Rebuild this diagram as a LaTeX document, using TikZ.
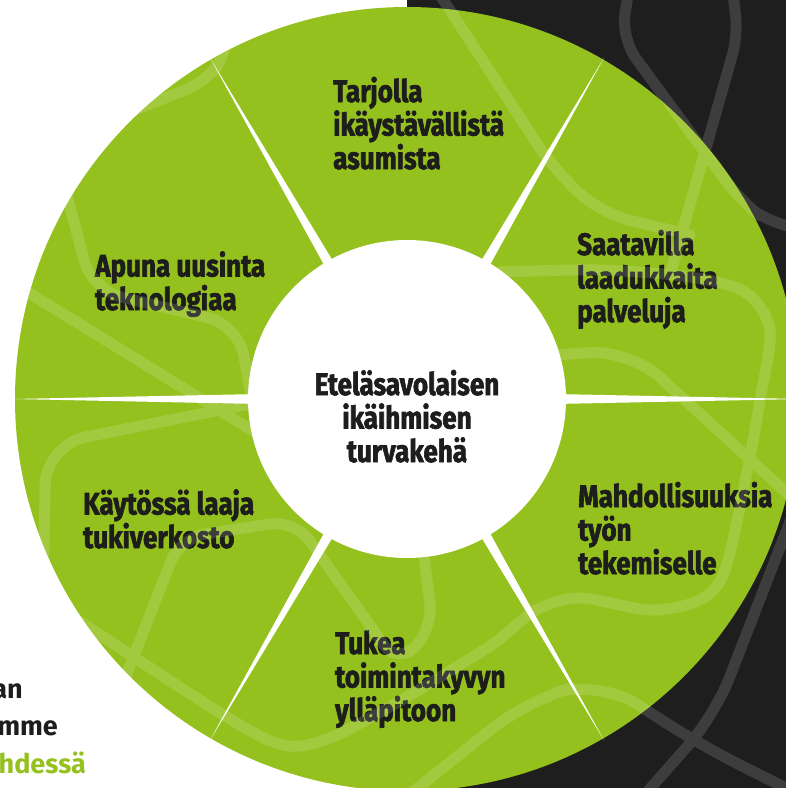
\documentclass[tikz,border=0pt]{standalone}
\usepackage{fontspec}
\setmainfont{Fira Sans}
\newfontfamily\lf[FakeStretch=0.84,FakeBold=2]{Fira Sans}
\usetikzlibrary{calc}
\definecolor{wgreen}{HTML}{95C11F}
\definecolor{wdark}{HTML}{1E1E1E}
\definecolor{wtext}{HTML}{1D1D1B}
\tikzset{
  seglabel/.style={anchor=base west, align=left, inner sep=0pt, text=wtext,
    font=\lf\bfseries\fontsize{31}{33.5}\selectfont},
  hublabel/.style={anchor=base, align=center, inner sep=0pt, text=wtext,
    font=\lf\bfseries\fontsize{31}{33.5}\selectfont},
  sidetext/.style={anchor=base east, inner sep=0pt,
    font=\bfseries\fontsize{27}{30}\selectfont},
  mapline/.style={draw=white, line width=11pt, line cap=round, line join=round},
}
\begin{document}
\begin{tikzpicture}[x=1pt,y=-1pt]
\useasboundingbox (0,0) rectangle (786,788);
\clip (0,0) rectangle (786,788);
\fill[white] (0,0) rectangle (786,788);
\fill[wdark] (407,0) rectangle (786,788);
\coordinate (c) at (407,399);
\fill[wgreen] (c) circle[radius=392pt];
\foreach \a in {0,60,...,300}
  \fill[white] ($(c)+(\a:394)$) -- ($(c)+(\a+90:8)$) -- ($(c)+(\a-90:8)$) -- cycle;
\fill[white] (c) circle[radius=159pt];

% labels (anchored at the baseline of the last line)
\node[hublabel] (hub) at (407,462) {Eteläsavolaisen\\ikäihmisen\\turvakehä};
\node[seglabel] (s1) at (333,169) {Tarjolla\\ikäystävällistä\\asumista};
\node[seglabel] (s2) at (577,322) {Saatavilla\\laadukkaita\\palveluja};
\node[seglabel] (s3) at (578,574) {Mahdollisuuksia\\työn\\tekemiselle};
\node[seglabel] (s4) at (335,721) {Tukea\\toimintakyvyn\\ylläpitoon};
\node[seglabel] (s5) at (83,548) {Käytössä laaja\\tukiverkosto};
\node[seglabel] (s6) at (95,310) {Apuna uusinta\\teknologiaa};

\node[sidetext, text=wtext] (t1) at (23,698) {an};
\node[sidetext, text=wtext] (t2) at (58,735) {mmme};
\node[sidetext, text=wgreen] (t3) at (86,773) {hdessä};

% decorative map lines
\begin{scope}[transparency group, opacity=0.14]
\draw[mapline, rounded corners=20pt] (110,120) -- (205,82) -- (226,55) -- (228,0);
\draw[mapline, rounded corners=30pt] (55,150) -- (92,290) -- (238,325) -- (254,410);
\draw[mapline] (0,275) -- (300,460);
\draw[mapline, rounded corners=40pt] (42,640) -- (46,445) -- (270,400);
\draw[mapline, rounded corners=25pt] (105,730) -- (180,538) -- (295,520) -- (398,665) -- (433,628) -- (422,540);
\draw[mapline] plot[smooth, tension=0.5] coordinates {(40,595) (217,711) (283,745) (330,738) (393,705) (430,683) (493,644) (536,610) (580,598) (650,610) (700,600) (725,570) (748,467) (760,400) (770,330) (745,292) (690,277) (600,270) (500,272)};
\draw[mapline, rounded corners=45pt] (390,810) -- (528,700) -- (600,680) -- (700,745) -- (800,795);
\draw[mapline, rounded corners=40pt] (540,356) -- (630,350) -- (800,505);
\draw[mapline, rounded corners=40pt] (810,470) -- (715,715) -- (640,800);
\draw[mapline, rounded corners=25pt] (628,-5) -- (621,38) -- (740,200) -- (770,224) -- (800,228);
\draw[mapline, rounded corners=20pt] (733,-5) -- (738,35) -- (670,275);
\draw[mapline, rounded corners=30pt] (440,-5) -- (553,168) -- (600,213) -- (690,235);
\end{scope}
\end{tikzpicture}
\end{document}
